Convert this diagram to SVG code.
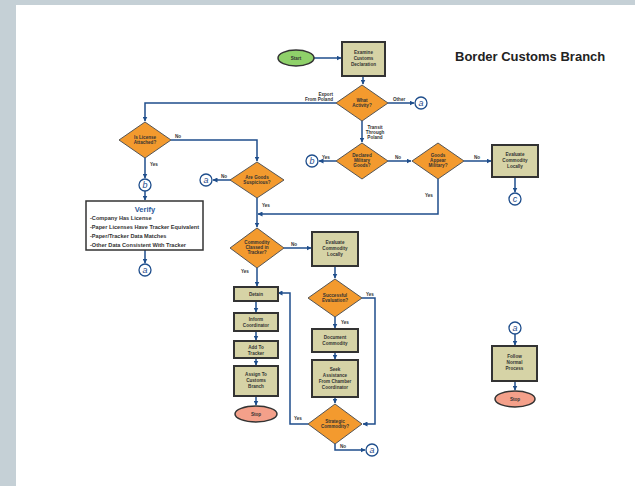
<svg xmlns="http://www.w3.org/2000/svg" width="635" height="486" viewBox="0 0 635 486">
<defs>
<marker id="ah" viewBox="0 0 10 10" refX="9" refY="5" markerWidth="5" markerHeight="5" orient="auto" markerUnits="userSpaceOnUse"><path d="M0,0 L10,5 L0,10 z" fill="#1f4e8c"/></marker>
<style>
.bx{fill:#d6d3a6;stroke:#333;stroke-width:2}
.dm{fill:#f39a2e;stroke:#555;stroke-width:1}
.ci{fill:#fff;stroke:#1f4e8c;stroke-width:1.3}
.cl{font-family:"Liberation Sans",Arial,sans-serif;font-size:9px;font-style:italic;fill:#1f4e8c;text-anchor:middle}
.t{font-family:"Liberation Sans",Arial,sans-serif;font-size:4.6px;font-weight:bold;fill:#333;text-anchor:middle}
.lb{font-family:"Liberation Sans",Arial,sans-serif;font-size:4.6px;font-weight:bold;fill:#333}
.c{fill:none;stroke:#1f4e8c;stroke-width:1.5}
.v{font-family:"Liberation Sans",Arial,sans-serif;font-size:5.6px;font-weight:bold;fill:#333}
</style>
</defs>
<rect width="635" height="486" fill="#fff"/>
<rect x="0" y="0" width="635" height="5" fill="#c5d0d6"/>
<rect x="0" y="0" width="16" height="486" fill="#c5d0d6"/>
<text x="455" y="61" font-family="Liberation Sans,Arial,sans-serif" font-size="13" font-weight="bold" fill="#222">Border Customs Branch</text>

<g id="connectors">
<path class="c" d="M314,58 H341" marker-end="url(#ah)"/>
<path class="c" d="M363,76 V84" marker-end="url(#ah)"/>
<path class="c" d="M388,103 H414" marker-end="url(#ah)"/>
<path class="c" d="M336,103 H145 V121" marker-end="url(#ah)"/>
<path class="c" d="M362,121 V142" marker-end="url(#ah)"/>
<path class="c" d="M336,161 H319" marker-end="url(#ah)"/>
<path class="c" d="M388,161 H411" marker-end="url(#ah)"/>
<path class="c" d="M464,161 H491" marker-end="url(#ah)"/>
<path class="c" d="M515,177 V192" marker-end="url(#ah)"/>
<path class="c" d="M438,179 V214 H258" marker-end="url(#ah)"/>
<path class="c" d="M171,140 H257 V161" marker-end="url(#ah)"/>
<path class="c" d="M231,180 H213" marker-end="url(#ah)"/>
<path class="c" d="M257,198 V227" marker-end="url(#ah)"/>
<path class="c" d="M145,158 V178" marker-end="url(#ah)"/>
<path class="c" d="M145,191 V200" marker-end="url(#ah)"/>
<path class="c" d="M145,250 V263" marker-end="url(#ah)"/>
<path class="c" d="M284,248 H311" marker-end="url(#ah)"/>
<path class="c" d="M335,266 V278" marker-end="url(#ah)"/>
<path class="c" d="M362,298 H375 V424 H363" marker-end="url(#ah)"/>
<path class="c" d="M335,317 V328" marker-end="url(#ah)"/>
<path class="c" d="M335,352 V359" marker-end="url(#ah)"/>
<path class="c" d="M335,397 V403" marker-end="url(#ah)"/>
<path class="c" d="M308,424 H290 V293 H278" marker-end="url(#ah)"/>
<path class="c" d="M335,444 V450 H365" marker-end="url(#ah)"/>
<path class="c" d="M257,268 V286" marker-end="url(#ah)"/>
<path class="c" d="M256,301 V312" marker-end="url(#ah)"/>
<path class="c" d="M256,331 V340" marker-end="url(#ah)"/>
<path class="c" d="M256,358 V365" marker-end="url(#ah)"/>
<path class="c" d="M256,396 V405" marker-end="url(#ah)"/>
<path class="c" d="M515,334 V345" marker-end="url(#ah)"/>
<path class="c" d="M515,381 V390" marker-end="url(#ah)"/>
<text class="lb" x="333" y="96" text-anchor="end">Export</text>
<text class="lb" x="333" y="101" text-anchor="end">From Poland</text>
<text class="lb" x="393" y="101">Other</text>
<text class="lb" x="375" y="129" text-anchor="middle">Transit</text>
<text class="lb" x="375" y="134" text-anchor="middle">Through</text>
<text class="lb" x="375" y="139" text-anchor="middle">Poland</text>
<text class="lb" x="322" y="159">Yes</text>
<text class="lb" x="395" y="159">No</text>
<text class="lb" x="474" y="159">No</text>
<text class="lb" x="425" y="197">Yes</text>
<text class="lb" x="175" y="138">No</text>
<text class="lb" x="221" y="178">No</text>
<text class="lb" x="262" y="207">Yes</text>
<text class="lb" x="150" y="166">Yes</text>
<text class="lb" x="291" y="246">No</text>
<text class="lb" x="241" y="273">Yes</text>
<text class="lb" x="366" y="296">Yes</text>
<text class="lb" x="341" y="324">Yes</text>
<text class="lb" x="294" y="420">Yes</text>
<text class="lb" x="340" y="448">No</text>
</g>

<g id="start"><ellipse cx="296" cy="58" rx="18" ry="8" fill="#8fd16a" stroke="#333" stroke-width="1.5"/><text class="t" x="296" y="60" font-size="6">Start</text></g>
<g id="examine"><rect class="bx" x="342" y="42" width="43" height="34"/><text class="t" x="363.5" y="54">Examine</text><text class="t" x="363.5" y="60">Customs</text><text class="t" x="363.5" y="66">Declaration</text></g>
<g id="what-activity"><polygon class="dm" points="362,85 388,103 362,121 336,103"/><text class="t" x="362" y="102">What</text><text class="t" x="362" y="107">Activity?</text></g>
<g id="a1"><circle class="ci" cx="421" cy="103" r="6"/><text class="cl" x="421" y="106">a</text></g>
<g id="declared-military"><polygon class="dm" points="362,143 388,161 362,179 336,161"/><text class="t" x="362" y="157">Declared</text><text class="t" x="362" y="162">Military</text><text class="t" x="362" y="167">Goods?</text></g>
<g id="b1"><circle class="ci" cx="312" cy="161" r="6"/><text class="cl" x="312" y="164">b</text></g>
<g id="goods-appear"><polygon class="dm" points="438,143 464,161 438,179 412,161"/><text class="t" x="438" y="157">Goods</text><text class="t" x="438" y="162">Appear</text><text class="t" x="438" y="167">Military?</text></g>
<g id="evaluate1"><rect class="bx" x="492" y="145" width="46" height="32"/><text class="t" x="515" y="156">Evaluate</text><text class="t" x="515" y="162">Commodity</text><text class="t" x="515" y="168">Locally</text></g>
<g id="c1"><circle class="ci" cx="515" cy="199" r="6"/><text class="cl" x="515" y="202">c</text></g>
<g id="is-license"><polygon class="dm" points="145,122 171,140 145,158 119,140"/><text class="t" x="145" y="139">Is License</text><text class="t" x="145" y="144">Attached?</text></g>
<g id="are-goods"><polygon class="dm" points="257,162 284,180 257,198 230,180"/><text class="t" x="257" y="179">Are Goods</text><text class="t" x="257" y="184">Suspicious?</text></g>
<g id="a2"><circle class="ci" cx="206" cy="180" r="6"/><text class="cl" x="206" y="183">a</text></g>
<g id="b2"><circle class="ci" cx="145" cy="185" r="6"/><text class="cl" x="145" y="188">b</text></g>
<g id="verify"><rect x="86" y="201" width="117" height="49" fill="#fff" stroke="#333" stroke-width="1.5"/>
<text x="145" y="212" text-anchor="middle" font-family="Liberation Sans,Arial,sans-serif" font-size="7.5" font-weight="bold" fill="#2a5a9c">Verify</text>
<text class="v" x="90" y="220">-Company Has License</text>
<text class="v" x="90" y="229">-Paper Licenses Have Tracker Equivalent</text>
<text class="v" x="90" y="238">-Paper/Tracker Data Matches</text>
<text class="v" x="90" y="247">-Other Data Consistent With Tracker</text></g>
<g id="a3"><circle class="ci" cx="145" cy="270" r="6"/><text class="cl" x="145" y="273">a</text></g>
<g id="commodity-classed"><polygon class="dm" points="257,228 284,248 257,268 230,248"/><text class="t" x="257" y="244">Commodity</text><text class="t" x="257" y="249">Classed in</text><text class="t" x="257" y="254">Tracker?</text></g>
<g id="evaluate2"><rect class="bx" x="312" y="232" width="46" height="34"/><text class="t" x="335" y="244">Evaluate</text><text class="t" x="335" y="250">Commodity</text><text class="t" x="335" y="256">Locally</text></g>
<g id="successful"><polygon class="dm" points="335,279 362,298 335,317 308,298"/><text class="t" x="335" y="297">Successful</text><text class="t" x="335" y="302">Evaluation?</text></g>
<g id="document"><rect class="bx" x="312" y="329" width="46" height="23"/><text class="t" x="335" y="339">Document</text><text class="t" x="335" y="345">Commodity</text></g>
<g id="seek"><rect class="bx" x="312" y="360" width="46" height="37"/><text class="t" x="335" y="371">Seek</text><text class="t" x="335" y="377">Assistance</text><text class="t" x="335" y="383">From Chamber</text><text class="t" x="335" y="389">Coordinator</text></g>
<g id="strategic"><polygon class="dm" points="335,404 362,424 335,444 308,424"/><text class="t" x="335" y="423">Strategic</text><text class="t" x="335" y="428">Commodity?</text></g>
<g id="a4"><circle class="ci" cx="372" cy="450" r="6"/><text class="cl" x="372" y="453">a</text></g>
<g id="detain"><rect class="bx" x="234" y="287" width="44" height="14"/><text class="t" x="256" y="296">Detain</text></g>
<g id="inform"><rect class="bx" x="234" y="313" width="44" height="18"/><text class="t" x="256" y="321">Inform</text><text class="t" x="256" y="327">Coordinator</text></g>
<g id="add-tracker"><rect class="bx" x="234" y="341" width="44" height="17"/><text class="t" x="256" y="349">Add To</text><text class="t" x="256" y="355">Tracker</text></g>
<g id="assign"><rect class="bx" x="234" y="366" width="44" height="30"/><text class="t" x="256" y="376">Assign To</text><text class="t" x="256" y="382">Customs</text><text class="t" x="256" y="388">Branch</text></g>
<g id="stop1"><ellipse cx="256" cy="414" rx="21" ry="8" fill="#f4a08a" stroke="#333" stroke-width="1.5"/><text class="t" x="256" y="416" font-size="6">Stop</text></g>
<g id="a5"><circle class="ci" cx="515" cy="328" r="6"/><text class="cl" x="515" y="331">a</text></g>
<g id="follow"><rect class="bx" x="492" y="346" width="45" height="35"/><text class="t" x="514.5" y="358">Follow</text><text class="t" x="514.5" y="364">Normal</text><text class="t" x="514.5" y="370">Process</text></g>
<g id="stop2"><ellipse cx="515" cy="399" rx="20" ry="8" fill="#f4a08a" stroke="#333" stroke-width="1.5"/><text class="t" x="515" y="401" font-size="6">Stop</text></g>
</svg>
